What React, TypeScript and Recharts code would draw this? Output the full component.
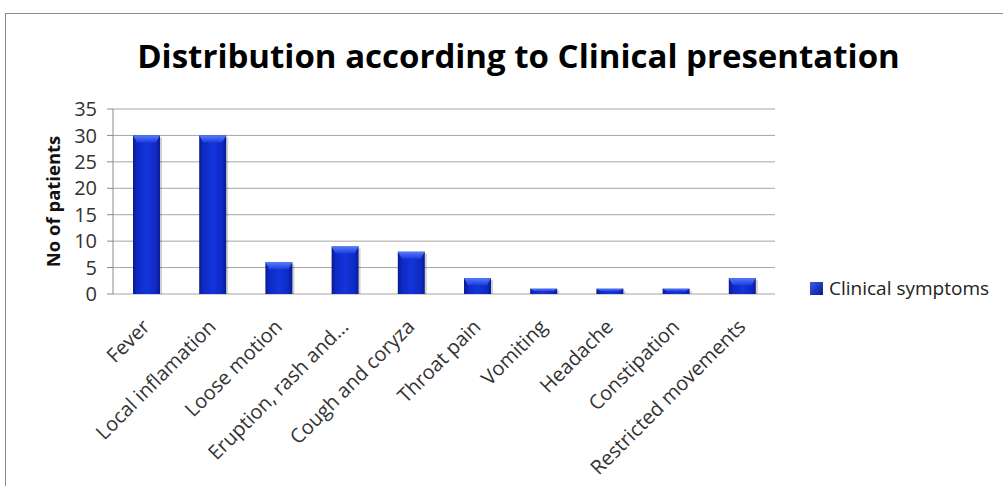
import React from 'react';
import { BarChart, Bar, XAxis, YAxis, CartesianGrid } from 'recharts';

const chartTitle = 'Distribution according to Clinical presentation';
const seriesName = 'Clinical symptoms';
const yAxisTitle = 'No of patients';
const categories = [
  'Fever',
  'Local inflamation',
  'Loose motion',
  'Eruption, rash and...',
  'Cough and coryza',
  'Throat pain',
  'Vomiting',
  'Headache',
  'Constipation',
  'Restricted movements',
];
const patients = [30, 30, 6, 9, 8, 3, 1, 1, 1, 3];
const yTicks = [0, 5, 10, 15, 20, 25, 30, 35];
const boundaryTicks = [0, 1, 2, 3, 4, 5, 6, 7, 8, 9, 10];

const data = categories.map((c, i) => ({ name: c, value: patients[i] }));

const FONT = "'Open Sans', 'Noto Sans', sans-serif";
const AXIS = '#8a8a8a';

const XTick = (props: any) => {
  const { x, y, payload } = props;
  const ax = x + 0;
  const ay = y + 21;
  return (
    <text
      x={ax}
      y={ay}
      transform={`rotate(-45, ${ax}, ${ay})`}
      textAnchor="end"
      dy="0.35em"
      fontSize={20}
      fontFamily={FONT}
      fill="#333"
    >
      {payload.value}
    </text>
  );
};

const BarShape = (props: any) => {
  const { x, y, width, height } = props;
  if (!height || height <= 0) return null;
  const cap = Math.min(7, height / 2);
  const inset = Math.min(4, width / 4);
  return (
    <g>
      <rect x={x + width} y={y + 2} width={2} height={height - 2} fill="rgba(0,0,0,0.18)" />
      <rect x={x} y={y} width={width} height={height} fill="url(#barGrad)" />
      <path
        d={`M${x},${y} L${x + width},${y} L${x + width - inset},${y + cap} L${x + inset},${y + cap} Z`}
        fill="url(#capGrad)"
      />
    </g>
  );
};

const YLabel = (props: any) => {
  const { viewBox } = props;
  const cx = viewBox.x + 52;
  const cy = viewBox.y + viewBox.height / 2;
  return (
    <text
      x={cx}
      y={cy}
      transform={`rotate(-90, ${cx}, ${cy})`}
      textAnchor="middle"
      dominantBaseline="central"
      fontSize={18.5}
      fontWeight={700}
      fontFamily={FONT}
      fill="#111"
    >
      {yAxisTitle}
    </text>
  );
};

export default function App() {
  return (
    <div style={{ position: 'absolute', left: 0, top: 0, width: 1003, height: 486, background: '#fff', overflow: 'hidden' }}>
      <div
        style={{
          position: 'absolute',
          left: 5,
          top: 13,
          width: 1003,
          height: 486,
          borderTop: '1px solid #8c8c8c',
          borderLeft: '1px solid #8c8c8c',
        }}
      />
      <div
        style={{
          position: 'absolute',
          left: 0,
          width: 1003,
          top: 36,
          textAlign: 'center',
          paddingLeft: 34,
          boxSizing: 'border-box',
          fontFamily: FONT,
          fontWeight: 700,
          fontSize: 33,
          lineHeight: '40px',
          color: '#000',
          whiteSpace: 'nowrap',
        }}
      >
        {chartTitle}
      </div>
      <div style={{ position: 'absolute', left: 0, top: 0 }}>
        <BarChart
          width={1003}
          height={486}
          data={data}
          margin={{ top: 109, right: 228, bottom: 0, left: 0 }}
        >
          <defs>
            <linearGradient id="barGrad" x1="0" y1="0" x2="1" y2="0">
              <stop offset="0%" stopColor="#0a1a8a" />
              <stop offset="15%" stopColor="#0e29c4" />
              <stop offset="50%" stopColor="#1335da" />
              <stop offset="85%" stopColor="#0e29c4" />
              <stop offset="100%" stopColor="#0a1a8a" />
            </linearGradient>
            <linearGradient id="capGrad" x1="0" y1="0" x2="0" y2="1">
              <stop offset="0%" stopColor="#5a7cf8" />
              <stop offset="100%" stopColor="#1a3ce0" />
            </linearGradient>
          </defs>
          <CartesianGrid xAxisId="cat" horizontal vertical={false} stroke="#a6a6a6" strokeWidth={1} />
          <XAxis
            xAxisId="bounds"
            type="number"
            domain={[0, 10]}
            ticks={boundaryTicks}
            height={0}
            tick={false}
            tickSize={6}
            axisLine={{ stroke: AXIS }}
            tickLine={{ stroke: AXIS }}
            allowDecimals={false}
          />
          <XAxis
            xAxisId="cat"
            dataKey="name"
            type="category"
            interval={0}
            height={192}
            axisLine={false}
            tickLine={false}
            tickSize={6}
            tickMargin={2}
            tick={<XTick />}
          />
          <YAxis
            domain={[0, 35]}
            ticks={yTicks}
            width={113}
            tickSize={6}
            tickMargin={10}
            axisLine={{ stroke: AXIS }}
            tickLine={{ stroke: AXIS }}
            tick={{ fontSize: 20, fontFamily: FONT, fill: '#333' }}
            interval={0}
            label={<YLabel />}
          />
          <Bar
            xAxisId="cat"
            dataKey="value"
            name={seriesName}
            barSize={27}
            shape={<BarShape />}
            isAnimationActive={false}
          />
        </BarChart>
      </div>
      <div
        style={{
          position: 'absolute',
          left: 810,
          top: 275,
          display: 'flex',
          alignItems: 'center',
          fontFamily: FONT,
          fontSize: 19,
          color: '#222',
          whiteSpace: 'nowrap',
        }}
      >
        <svg width={13} height={13} style={{ marginRight: 6 }}>
          <defs>
            <linearGradient id="legGrad" x1="0" y1="0" x2="1" y2="1">
              <stop offset="0%" stopColor="#3a5cf0" />
              <stop offset="100%" stopColor="#0a1a8a" />
            </linearGradient>
          </defs>
          <rect x={0} y={0} width={13} height={13} fill="url(#legGrad)" />
        </svg>
        <span>{seriesName}</span>
      </div>
    </div>
  );
}
